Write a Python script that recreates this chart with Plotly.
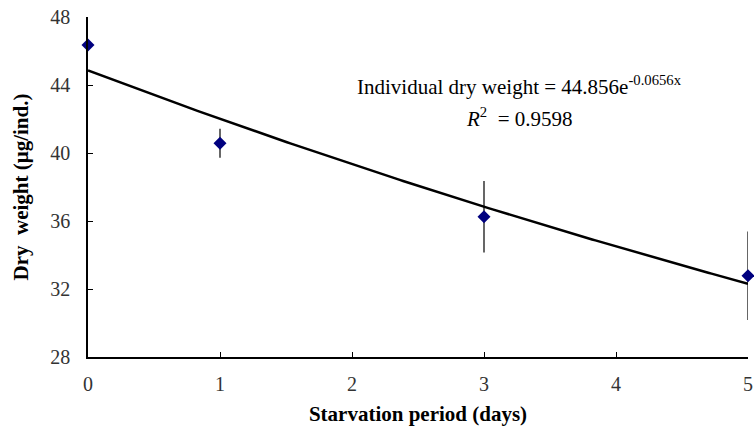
import numpy as np
import plotly.graph_objects as go

# Measured dry weight per individual over the starvation period
days = [0, 1, 3, 5]
dry_weight = [46.35, 40.57, 36.25, 32.78]
dry_weight_sd = [0.0, 0.85, 2.1, 2.6]

# Exponential trendline coefficients: y = a * exp(b * x)
fit_a = 44.856
fit_b = -0.0656
fit_r2 = 0.9598

x_ticks = [0, 1, 2, 3, 4, 5]
y_ticks = [28, 32, 36, 40, 44, 48]

fit_x = np.linspace(0, 5, 200)
fit_y = fit_a * np.exp(fit_b * fit_x)

serif = "Liberation Serif"

fig = go.Figure()
fig.add_trace(go.Scatter(
    x=fit_x, y=fit_y, mode="lines",
    line=dict(color="black", width=2.5),
    hoverinfo="skip", showlegend=False,
))
fig.add_trace(go.Scatter(
    x=days, y=dry_weight, mode="markers",
    marker=dict(symbol="diamond", size=10, color="#00007F"),
    error_y=dict(type="data", array=dry_weight_sd, visible=True,
                 color="black", thickness=1.2, width=0),
    cliponaxis=False, showlegend=False,
))

fig.update_layout(
    width=754, height=426,
    margin=dict(l=88, r=6, t=17, b=69),
    plot_bgcolor="white", paper_bgcolor="white",
    font=dict(family=serif, color="black"),
    xaxis=dict(
        range=[0, 5], tickvals=x_ticks, ticks="inside", ticklen=5,
        tickwidth=1.2, tickcolor="black",
        showline=True, linecolor="black", linewidth=1.5,
        showgrid=False, zeroline=False, automargin=False,
        tickfont=dict(size=20, family=serif, color="#333333"),
        ticklabelstandoff=8,
        title=dict(text="<b>Starvation period (days)</b>",
                   font=dict(size=21, family=serif), standoff=14),
    ),
    yaxis=dict(
        range=[28, 48], tickvals=y_ticks, ticks="inside", ticklen=5,
        tickwidth=1.2, tickcolor="black",
        showline=True, linecolor="black", linewidth=1.5,
        showgrid=False, zeroline=False, automargin=False,
        tickfont=dict(size=20, family=serif, color="#333333"),
        ticklabelstandoff=12,
        title=dict(text="<b>Dry\u00a0 weight (μg/ind.)</b>",
                   font=dict(size=21, family=serif), standoff=16),
    ),
    annotations=[
        dict(x=3.27, y=44.0, xref="x", yref="y", showarrow=False,
             text=f"Individual dry weight = {fit_a}e<sup>{fit_b}x</sup>",
             font=dict(size=21, family=serif), xanchor="center"),
        dict(x=3.27, y=42.06, xref="x", yref="y", showarrow=False,
             text=f"<i>R</i><sup>2</sup>  = {fit_r2}",
             font=dict(size=21, family=serif), xanchor="center"),
    ],
)

fig.write_html("out.html")
